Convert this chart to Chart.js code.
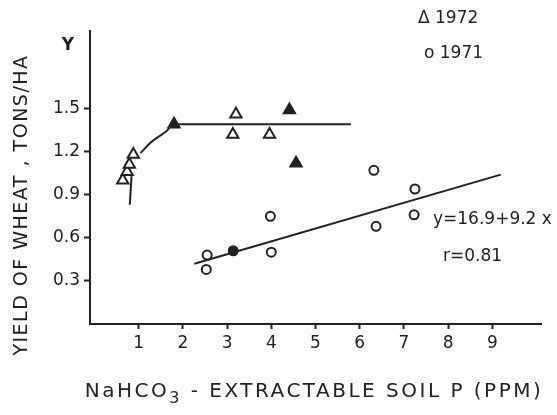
<!DOCTYPE html>
<html>
<head>
<meta charset="utf-8">
<script src="https://cdn.jsdelivr.net/npm/chart.js@4.4.1/dist/chart.umd.min.js"></script>
<style>
  html, body { margin: 0; padding: 0; background: #fff; }
  #wrap { width: 557px; height: 415px; }
</style>
</head>
<body>
<div id="wrap"><canvas id="chart" width="557" height="415"></canvas></div>
<script>
// 1972 yields (triangles)
const x1972 = [0.64, 0.74, 0.79, 0.88, 1.8, 3.2, 3.13, 3.96, 4.41, 4.56];
const y1972 = [1.0, 1.06, 1.11, 1.18, 1.39, 1.46, 1.32, 1.32, 1.49, 1.12];
const filled1972 = [false, false, false, false, true, false, false, false, true, true];

// 1971 yields (circles)
const x1971 = [2.55, 2.53, 3.14, 3.98, 4.0, 6.32, 6.37, 7.25, 7.23];
const y1971 = [0.48, 0.38, 0.51, 0.75, 0.5, 1.07, 0.68, 0.94, 0.76];
const filled1971 = [false, false, true, false, false, false, false, false, false];

// hand drawn curve through the 1972 points
const curveX = [1.04, 1.3, 1.62, 1.8, 5.8];
const curveY = [1.19, 1.27, 1.34, 1.39, 1.39];
const stemX = [0.8, 0.84];
const stemY = [0.83, 1.03];

// regression line for 1971
const fitX = [2.26, 9.19];
const fitY = [0.42, 1.04];

const xTicks = [1, 2, 3, 4, 5, 6, 7, 8, 9];
const yTicks = [0.3, 0.6, 0.9, 1.2, 1.5];

const ink = "#222";
const font = "'DejaVu Sans', sans-serif";

function pts(xs, ys) {
  return xs.map((x, i) => ({ x: x, y: ys[i] }));
}

const textPlugin = {
  id: "texts",
  afterDraw(chart) {
    const ctx = chart.ctx;
    ctx.save();
    ctx.fillStyle = ink;
    ctx.textBaseline = "middle";

    // Y label at axis top
    ctx.font = "bold 17px " + font;
    ctx.textAlign = "center";
    ctx.fillText("Y", 68, 46);

    // y axis title
    ctx.save();
    ctx.translate(22, 205);
    ctx.rotate(-Math.PI / 2);
    ctx.font = "19px " + font;
    ctx.letterSpacing = "1.5px";
    ctx.textAlign = "center";
    ctx.fillText("YIELD OF WHEAT , TONS/HA", 0, 0);
    ctx.restore();

    // x axis title with subscript
    ctx.letterSpacing = "2.5px";
    ctx.textAlign = "left";
    const a = "NaHCO";
    const b = "3";
    const c = " - EXTRACTABLE SOIL P (PPM)";
    ctx.font = "20px " + font;
    const wa = ctx.measureText(a).width;
    const wc = ctx.measureText(c).width;
    ctx.font = "16px " + font;
    const wb = ctx.measureText(b).width;
    let left = 314 - (wa + wb + wc) / 2;
    ctx.font = "20px " + font;
    ctx.fillText(a, left, 392);
    ctx.font = "16px " + font;
    ctx.fillText(b, left + wa, 399);
    ctx.font = "20px " + font;
    ctx.fillText(c, left + wa + wb, 392);
    ctx.letterSpacing = "0px";

    // legend
    ctx.font = "17px " + font;
    ctx.fillText("\u0394 1972", 418, 19);
    ctx.fillText("o 1971", 424, 54);

    // regression note
    ctx.font = "17px " + font;
    ctx.fillText("y=16.9+9.2 x", 433, 220);
    ctx.fillText("r=0.81", 443, 257);

    ctx.restore();
  },
};

new Chart(document.getElementById("chart"), {
  type: "scatter",
  data: {
    datasets: [
      {
        label: "1972",
        data: pts(x1972, y1972),
        pointStyle: "triangle",
        pointRadius: 6.5,
        pointBorderWidth: 2,
        pointBorderColor: ink,
        pointBackgroundColor: filled1972.map((f) => (f ? ink : "#fff")),
      },
      {
        label: "1971",
        data: pts(x1971, y1971),
        pointStyle: "circle",
        pointRadius: 4.5,
        pointBorderWidth: 2,
        pointBorderColor: ink,
        pointBackgroundColor: filled1971.map((f) => (f ? ink : "#fff")),
      },
      {
        label: "curve",
        data: pts(curveX, curveY),
        showLine: true,
        pointRadius: 0,
        borderColor: ink,
        borderWidth: 2,
        cubicInterpolationMode: "monotone",
      },
      {
        label: "stem",
        data: pts(stemX, stemY),
        showLine: true,
        pointRadius: 0,
        borderColor: ink,
        borderWidth: 2,
      },
      {
        label: "fit",
        data: pts(fitX, fitY),
        showLine: true,
        pointRadius: 0,
        borderColor: ink,
        borderWidth: 2,
      },
    ],
  },
  options: {
    responsive: false,
    animation: false,
    layout: { padding: { left: 30, top: 31, right: 16, bottom: 0 } },
    plugins: {
      legend: { display: false },
      tooltip: { enabled: false },
    },
    scales: {
      x: {
        type: "linear",
        min: -0.1,
        max: 10.1,
        afterBuildTicks: (s) => {
          s.ticks = xTicks.map((v) => ({ value: v }));
        },
        afterFit: (s) => {
          s.height = 91;
        },
        ticks: {
          color: ink,
          font: { family: font, size: 17 },
          padding: 4,
          callback: (v) => String(v),
        },
        grid: {
          drawOnChartArea: false,
          drawTicks: true,
          tickLength: 5,
          tickColor: ink,
          tickWidth: 2,
        },
        border: { display: true, color: ink, width: 2 },
      },
      y: {
        type: "linear",
        min: 0,
        max: 2.04,
        afterBuildTicks: (s) => {
          s.ticks = yTicks.map((v) => ({ value: v }));
        },
        afterFit: (s) => {
          s.width = 60;
        },
        ticks: {
          color: ink,
          font: { family: font, size: 17 },
          padding: 4,
          callback: (v) => v.toFixed(1),
        },
        grid: {
          drawOnChartArea: false,
          drawTicks: true,
          tickLength: 6,
          tickColor: ink,
          tickWidth: 2,
        },
        border: { display: true, color: ink, width: 2 },
      },
    },
  },
  plugins: [textPlugin],
});
</script>
</body>
</html>
